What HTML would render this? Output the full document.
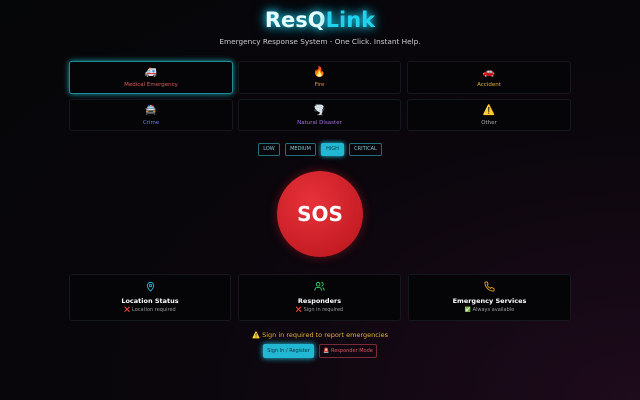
<!DOCTYPE html>
<html><head><style>
*{margin:0;padding:0;box-sizing:border-box}
body{width:640px;height:400px;overflow:hidden;font-family:"DejaVu Sans","Liberation Sans","Noto Sans CJK SC",sans-serif;background:radial-gradient(ellipse at 100% 100%,#1e0b1c 0%,#0a060c 50%,#050608 100%);color:#ddd;position:relative}
.a{position:absolute}
h1{position:absolute;left:0;width:640px;top:8px;text-align:center;font-size:21px;font-weight:bold;color:#e8ffff;text-shadow:0 0 8px #22d3ee,0 0 14px #0891b2}
h1 span{color:#22d3ee}
.sub{top:37px;width:640px;text-align:center;font-size:7.3px;color:#ccc}
.card{position:absolute;border:1px solid #15181c;border-radius:3px;background:#050507;text-align:center}
.card .i{font-size:10px;margin-top:5px;line-height:12px}
.card .t{font-size:5.5px;margin-top:3px}
.sev{position:absolute;top:143px;height:13px;border:1px solid #1e6f7a;border-radius:2px;font-size:5px;color:#7fc6d0;text-align:center;line-height:11px}
.st .i{margin-top:6px}
.st .h{font-size:6.5px;font-weight:bold;color:#fff;margin-top:1px}
.st .s{font-size:5px;color:#999;margin-top:2px}
</style></head><body>
<h1>ResQ<span>Link</span></h1>
<div class="a sub">Emergency Response System - One Click. Instant Help.</div>

<div class="card" style="left:69px;top:61px;width:164px;height:33px;border-color:#1f8a94;box-shadow:0 0 6px #1aa4b0"><div class="i">🚑</div><div class="t" style="color:#e05a5a">Medical Emergency</div></div>
<div class="card" style="left:238px;top:61px;width:163px;height:33px"><div class="i">🔥</div><div class="t" style="color:#f08a3a">Fire</div></div>
<div class="card" style="left:407px;top:61px;width:164px;height:33px"><div class="i">🚗</div><div class="t" style="color:#e0b030">Accident</div></div>
<div class="card" style="left:69px;top:99px;width:164px;height:32px"><div class="i">🚔</div><div class="t" style="color:#6a7af0">Crime</div></div>
<div class="card" style="left:238px;top:99px;width:163px;height:32px"><div class="i">🌪️</div><div class="t" style="color:#a070e0">Natural Disaster</div></div>
<div class="card" style="left:407px;top:99px;width:164px;height:32px"><div class="i">⚠️</div><div class="t" style="color:#aaa">Other</div></div>

<div class="sev" style="left:258px;width:22px">LOW</div>
<div class="sev" style="left:285px;width:31px">MEDIUM</div>
<div class="sev" style="left:321px;width:23px;background:#22b8d4;color:#0a3a44;border-color:#22b8d4;box-shadow:0 0 5px #22d3ee">HIGH</div>
<div class="sev" style="left:349px;width:33px">CRITICAL</div>

<div class="a" style="left:277px;top:171px;width:86px;height:86px;border-radius:50%;background:radial-gradient(circle at 40% 35%,#e8323a,#b8141c);box-shadow:0 0 10px rgba(220,30,40,.4);color:#fff;font-size:20px;font-weight:bold;text-align:center;line-height:86px">SOS</div>

<div class="card st" style="left:69px;top:274px;width:162px;height:47px"><div class="i">
<svg width="11" height="11" viewBox="0 0 24 24" fill="none" stroke="#22b8d4" stroke-width="2"><path d="M12 22s7-7 7-12a7 7 0 0 0-14 0c0 5 7 12 7 12z"/><circle cx="12" cy="10" r="2.5"/></svg></div><div class="h">Location Status</div><div class="s">❌ Location required</div></div>
<div class="card st" style="left:238px;top:274px;width:163px;height:47px"><div class="i">
<svg width="11" height="11" viewBox="0 0 24 24" fill="none" stroke="#3ecf6a" stroke-width="2"><circle cx="9" cy="7" r="4"/><path d="M2 21v-2a5 5 0 0 1 5-5h4a5 5 0 0 1 5 5v2M16 3a4 4 0 0 1 0 8M22 21v-2a5 5 0 0 0-3-4.5"/></svg></div><div class="h">Responders</div><div class="s">❌ Sign in required</div></div>
<div class="card st" style="left:408px;top:274px;width:163px;height:47px"><div class="i">
<svg width="11" height="11" viewBox="0 0 24 24" fill="none" stroke="#e0a020" stroke-width="2"><path d="M22 17v3a2 2 0 0 1-2 2A19 19 0 0 1 2 4a2 2 0 0 1 2-2h3l2 5-2 1.5a12 12 0 0 0 7.5 7.5L16 14l5 2z"/></svg></div><div class="h">Emergency Services</div><div class="s">✅ Always available</div></div>

<div class="a" style="left:0;top:331px;width:640px;text-align:center;font-size:6.5px;color:#e0b030">⚠️ Sign in required to report emergencies</div>
<div class="a" style="left:263px;top:344px;width:51px;height:14px;border-radius:2px;background:#22b8d4;box-shadow:0 0 6px #22d3ee;font-size:5px;color:#0a3040;text-align:center;line-height:14px">Sign In / Register</div>
<div class="a" style="left:319px;top:344px;width:58px;height:14px;border-radius:2px;border:1px solid #7a2a36;font-size:5px;color:#e05060;text-align:center;line-height:12px">🚨 Responder Mode</div>
</body></html>
